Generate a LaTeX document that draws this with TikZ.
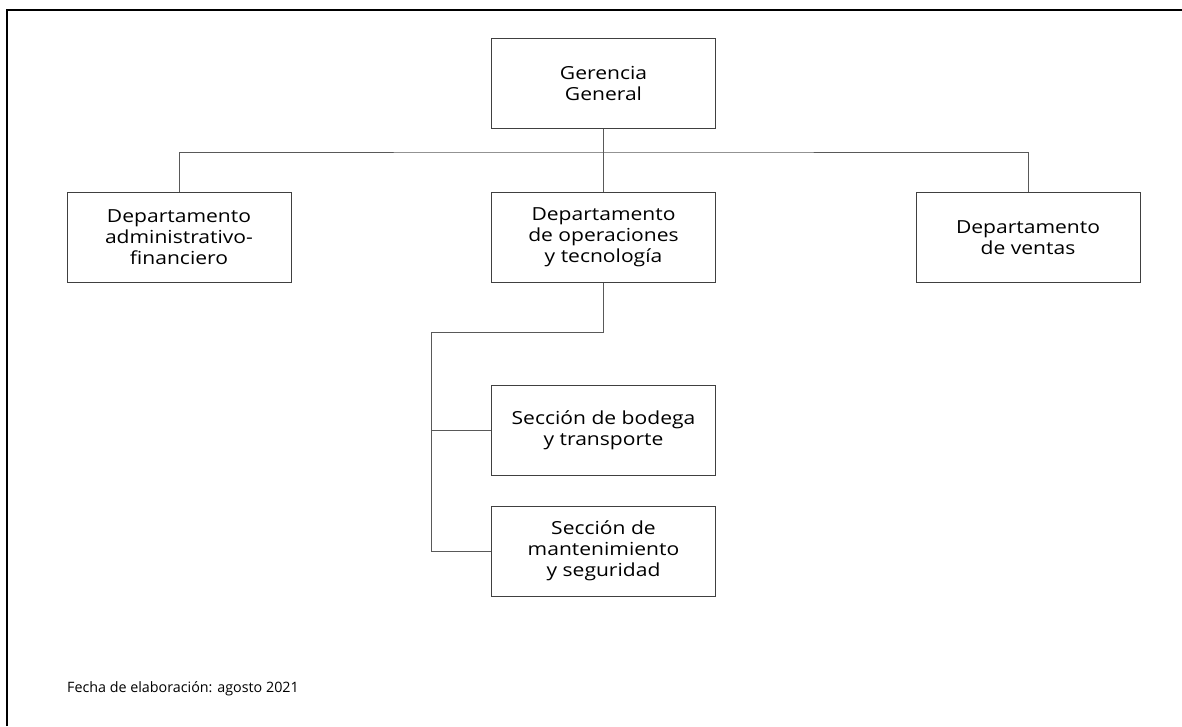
\documentclass[tikz,border=0pt]{standalone}
\usepackage{fontspec}
\setmainfont[FakeStretch=1.17]{Open Sans}
\newfontfamily\footfont{Open Sans}
\begin{document}
\begin{tikzpicture}[x=1pt,y=-1pt,
  orgbox/.style={draw=black!75,line width=1pt,minimum width=224pt,minimum height=90pt,inner sep=0pt,align=center,
    font=\fontsize{18}{21}\selectfont,text=black},
  link/.style={draw=black!65,line width=1pt},
  frame/.style={draw=black,line width=2pt}]
\useasboundingbox (0,0) rectangle (1182,726);
\draw[frame] (7,726) -- (7,10) -- (1182,10);
\node[orgbox] (g) at (603.5,83) {Gerencia\\General};
\node[orgbox] (a) at (179,237.5) {Departamento\\administrativo-\\financiero};
\node[orgbox] (o) at (603.5,237.5) {Departamento\\de operaciones\\y tecnología};
\node[orgbox] (v) at (1028,237.5) {Departamento\\de ventas};
\node[orgbox] (b) at (603.5,430.5) {Sección de bodega\\y transporte};
\node[orgbox] (m) at (603.5,551) {Sección de\\mantenimiento\\y seguridad};
\coordinate (bus) at (603.5,152);
\coordinate (drop) at (603.5,332);
\coordinate (spine) at (431,332);
\node[anchor=west,inner sep=0pt,font=\footfont\fontsize{14.3}{17}\selectfont,text=black] (f) at (67,689) {Fecha de elaboración: agosto 2021};
\draw[link] (g.south) -- (bus);
\draw[link] (a.north) |- (bus) -| (v.north);
\draw[link] (bus) -- (o.north);
\draw[link] (o.south) -- (drop) -- (spine) |- (m.west);
\draw[link] (spine |- b.west) -- (b.west);
\end{tikzpicture}
\end{document}
